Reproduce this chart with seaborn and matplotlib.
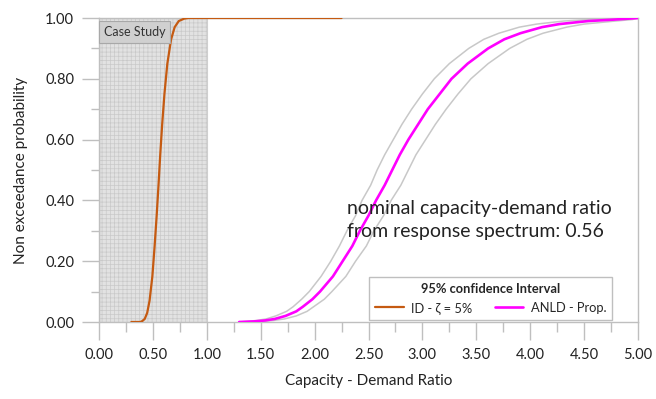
import numpy as np
import pandas as pd
import matplotlib
matplotlib.use("Agg")
import matplotlib.pyplot as plt
import seaborn as sns
from matplotlib.ticker import MultipleLocator, FormatStrFormatter
from matplotlib.patches import Rectangle
from matplotlib.lines import Line2D

# ---- data ----
id_x = [0.30, 0.38, 0.397, 0.424, 0.447, 0.469, 0.495, 0.516, 0.535, 0.552,
        0.568, 0.586, 0.607, 0.634, 0.669, 0.702, 0.740, 0.791, 0.83, 2.25]
id_p = [0.00, 0.00, 0.002, 0.01, 0.03, 0.07, 0.15, 0.25, 0.35, 0.45,
        0.55, 0.65, 0.75, 0.85, 0.93, 0.97, 0.99, 0.998, 1.00, 1.00]

anld_p = [0.000, 0.002, 0.005, 0.01, 0.02, 0.035, 0.05, 0.075, 0.10, 0.15,
          0.20, 0.25, 0.30, 0.35, 0.40, 0.45, 0.50, 0.55, 0.60, 0.65,
          0.70, 0.75, 0.80, 0.85, 0.90, 0.93, 0.95, 0.97, 0.98, 0.99,
          0.995, 1.000]
anld_mid = [1.30, 1.44, 1.54, 1.63, 1.73, 1.83, 1.89, 1.98, 2.05, 2.17,
            2.26, 2.35, 2.42, 2.50, 2.57, 2.65, 2.72, 2.79, 2.87, 2.96,
            3.05, 3.16, 3.27, 3.42, 3.61, 3.76, 3.91, 4.11, 4.27, 4.54,
            4.79, 5.00]
anld_upper = [1.30, 1.37, 1.46, 1.55, 1.64, 1.74, 1.80, 1.88, 1.95, 2.06,
              2.15, 2.23, 2.30, 2.38, 2.44, 2.52, 2.58, 2.65, 2.73, 2.81,
              2.90, 3.00, 3.11, 3.25, 3.43, 3.57, 3.71, 3.90, 4.06, 4.31,
              4.55, 5.00]
anld_lower = [1.30, 1.52, 1.62, 1.72, 1.83, 1.93, 1.99, 2.09, 2.16, 2.29,
              2.38, 2.48, 2.55, 2.64, 2.71, 2.80, 2.87, 2.94, 3.03, 3.12,
              3.22, 3.33, 3.45, 3.61, 3.81, 3.97, 4.12, 4.34, 4.50, 4.79,
              4.95, 5.00]

x_ticks = [0.0, 0.5, 1.0, 1.5, 2.0, 2.5, 3.0, 3.5, 4.0, 4.5, 5.0]
y_ticks = [0.0, 0.2, 0.4, 0.6, 0.8, 1.0]

# ---- style ----
sns.set_style("white")
plt.rcParams["font.family"] = ["Lato", "DejaVu Sans"]
plt.rcParams["hatch.linewidth"] = 0.5

fig = plt.figure(figsize=(6.56, 3.99), dpi=100)
ax = fig.add_axes([99/656, 1-322/399, (638-99)/656, (322-18)/399])

GRAY = "#bfbfbf"
ORANGE = "#c55a11"
MAGENTA = "#ff00ff"

# shaded case-study region
ax.add_patch(Rectangle((0, 0), 1.0, 1.0, facecolor="#e2e2e2", edgecolor="#c9c9c9",
                       hatch="++++", lw=0, zorder=0))
ax.add_patch(Rectangle((0, 0), 1.0, 1.0, facecolor="none", edgecolor="#cfcfcf",
                       lw=0.8, zorder=0.5))

df_id = pd.DataFrame({"x": id_x, "p": id_p})
df_mid = pd.DataFrame({"x": anld_mid, "p": anld_p})
df_up = pd.DataFrame({"x": anld_upper, "p": anld_p})
df_lo = pd.DataFrame({"x": anld_lower, "p": anld_p})

sns.lineplot(data=df_up, x="x", y="p", ax=ax, color="#c8c8c8", lw=1.1, sort=False, zorder=2)
sns.lineplot(data=df_lo, x="x", y="p", ax=ax, color="#c8c8c8", lw=1.1, sort=False, zorder=2)
sns.lineplot(data=df_mid, x="x", y="p", ax=ax, color=MAGENTA, lw=1.9, sort=False, zorder=3)
sns.lineplot(data=df_id, x="x", y="p", ax=ax, color=ORANGE, lw=1.6, sort=False, zorder=4)

ax.set_xlim(0, 5)
ax.set_ylim(0, 1)
ax.set_xticks(x_ticks)
ax.set_yticks(y_ticks)
ax.xaxis.set_minor_locator(MultipleLocator(0.25))
ax.yaxis.set_minor_locator(MultipleLocator(0.1))
ax.xaxis.set_major_formatter(FormatStrFormatter("%.2f"))
ax.yaxis.set_major_formatter(FormatStrFormatter("%.2f"))

for s in ax.spines.values():
    s.set_color(GRAY)
    s.set_linewidth(1.0)

ax.tick_params(axis="x", which="major", direction="out", length=13, width=1.0,
               color=GRAY, labelsize=10.5, labelcolor="#222222", pad=6)
ax.tick_params(axis="x", which="minor", direction="out", length=7, width=1.0, color=GRAY)
ax.tick_params(axis="y", which="major", direction="out", length=12, width=1.0,
               color=GRAY, labelsize=10.5, labelcolor="#222222", pad=6)
ax.tick_params(axis="y", which="minor", direction="out", length=6, width=1.0, color=GRAY)
ax.tick_params(bottom=True, left=True, which="both")

ax.set_xlabel("Capacity - Demand Ratio", fontsize=11, color="#222222", labelpad=8)
ax.set_ylabel("Non exceedance probability", fontsize=11, color="#222222", labelpad=12)

# Case Study label
ax.text(0.045, 0.975, "Case Study", fontsize=9, color="#333333", va="top", ha="left",
        bbox=dict(boxstyle="square,pad=0.4", facecolor="#d0d0d0", edgecolor="#a8a8a8", lw=0.8),
        zorder=5)

# annotation
ax.text(2.30, 0.335, "nominal capacity-demand ratio\nfrom response spectrum: 0.56",
        fontsize=14, color="#222222", ha="left", va="center", linespacing=1.45, zorder=5)

# legend
handles = [Line2D([0], [0], color=ORANGE, lw=1.6),
           Line2D([0], [0], color=MAGENTA, lw=1.9)]
leg = ax.legend(handles, ["ID - ζ = 5%", "ANLD - Prop."], ncol=2,
                title="95% confidence Interval", loc="lower right",
                bbox_to_anchor=((612-99)/539, 0.008), borderaxespad=0,
                fontsize=9.3, title_fontsize=9.3,
                frameon=True, fancybox=False, edgecolor=GRAY, framealpha=1,
                borderpad=0.45, handlelength=2.2, columnspacing=1.7, handletextpad=0.6)
leg.get_title().set_fontweight("bold")
leg.get_frame().set_linewidth(1.0)
leg.set_zorder(6)

fig.savefig("out.png", dpi=100)
